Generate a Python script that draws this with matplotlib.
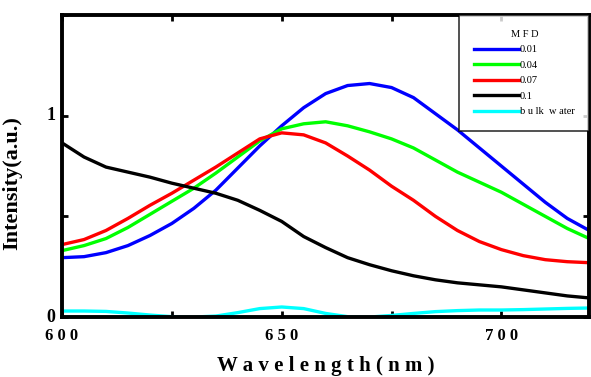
import matplotlib.pyplot as plt
from matplotlib.ticker import MultipleLocator

# wavelength grid (nm)
wavelength = [600, 605, 610, 615, 620, 625, 630, 635, 640, 645, 650, 655, 660,
              665, 670, 675, 680, 685, 690, 695, 700, 705, 710, 715, 720]

# MFD = 0.01
mfd_001 = [0.295, 0.30, 0.32, 0.355, 0.405, 0.465, 0.54, 0.63, 0.74, 0.85, 0.95, 1.04, 1.11,
           1.15, 1.16, 1.14, 1.09, 1.01, 0.93, 0.84, 0.75, 0.66, 0.57, 0.49, 0.43]
# MFD = 0.04
mfd_004 = [0.33, 0.355, 0.39, 0.445, 0.51, 0.575, 0.64, 0.715, 0.795, 0.875, 0.935, 0.96, 0.97,
           0.95, 0.92, 0.885, 0.84, 0.78, 0.72, 0.67, 0.62, 0.56, 0.50, 0.44, 0.39]
# MFD = 0.07
mfd_007 = [0.36, 0.385, 0.43, 0.49, 0.555, 0.615, 0.68, 0.745, 0.815, 0.885, 0.915, 0.905, 0.865,
           0.80, 0.73, 0.65, 0.58, 0.50, 0.43, 0.375, 0.335, 0.305, 0.285, 0.275, 0.27]
# MFD = 0.1
mfd_01 = [0.865, 0.795, 0.745, 0.72, 0.695, 0.665, 0.64, 0.615, 0.58, 0.53, 0.475, 0.40, 0.345,
          0.295, 0.26, 0.23, 0.205, 0.185, 0.17, 0.16, 0.15, 0.135, 0.12, 0.105, 0.095]
# bulk water
bulk_water = [0.03, 0.03, 0.028, 0.02, 0.01, 0.002, 0.0, 0.005, 0.022, 0.042, 0.05, 0.042, 0.018,
              0.002, 0.0, 0.008, 0.018, 0.027, 0.032, 0.035, 0.035, 0.037, 0.04, 0.043, 0.045]

series = [(mfd_001, '0.01', '#0000ff'),
          (mfd_004, '0.04', '#00ff00'),
          (mfd_007, '0.07', '#ff0000'),
          (mfd_01, '0.1', '#000000'),
          (bulk_water, 'b u lk  w ater', '#00ffff')]

plt.rcParams['font.family'] = 'Liberation Serif'

fig = plt.figure(figsize=(5.91, 3.77), dpi=100)
ax = fig.add_axes([0.105, 0.159, 0.892, 0.801])

for values, label, color in series:
    ax.plot(wavelength, values, color=color, linewidth=2.4, label=label,
            solid_joinstyle='round')

ax.set_xlim(600, 720)
ax.set_ylim(0, 1.5)
ax.xaxis.set_major_locator(MultipleLocator(50))
ax.xaxis.set_minor_locator(MultipleLocator(25))
ax.yaxis.set_major_locator(MultipleLocator(1))
ax.yaxis.set_minor_locator(MultipleLocator(0.5))
ax.set_xticklabels([])
ax.set_yticklabels([])
ax.tick_params(which='both', direction='in', width=2, length=4, top=True, right=True)

for s in ax.spines.values():
    s.set_linewidth(2.8)

# tick labels with wide letter spacing
for xv in [600, 650, 700]:
    ax.text(xv, -0.035, ' '.join(str(xv)), ha='center', va='top', fontsize=12,
            fontweight='bold', transform=ax.get_xaxis_transform())
for yv in [0, 1]:
    ax.text(-0.012, yv, str(yv), ha='right', va='center', fontsize=13,
            fontweight='bold', transform=ax.get_yaxis_transform())

ax.set_xlabel('W a v e l e n g t h ( n m )', fontsize=15, fontweight='bold')
ax.xaxis.set_label_coords(0.5, -0.13)
ax.set_ylabel('Intensity(a.u.)', fontsize=16, fontweight='bold')
ax.yaxis.set_label_coords(-0.076, 0.445)

leg = ax.legend(title='M F D', loc='upper right', bbox_to_anchor=(1, 1), borderaxespad=0,
                fontsize=7.5, title_fontsize=7.5, frameon=True, fancybox=False,
                edgecolor='black', handlelength=4.3, handletextpad=0.1,
                labelspacing=0.6, borderpad=1.4)
leg.get_frame().set_linewidth(1.2)

fig.savefig('out.png', dpi=100)
